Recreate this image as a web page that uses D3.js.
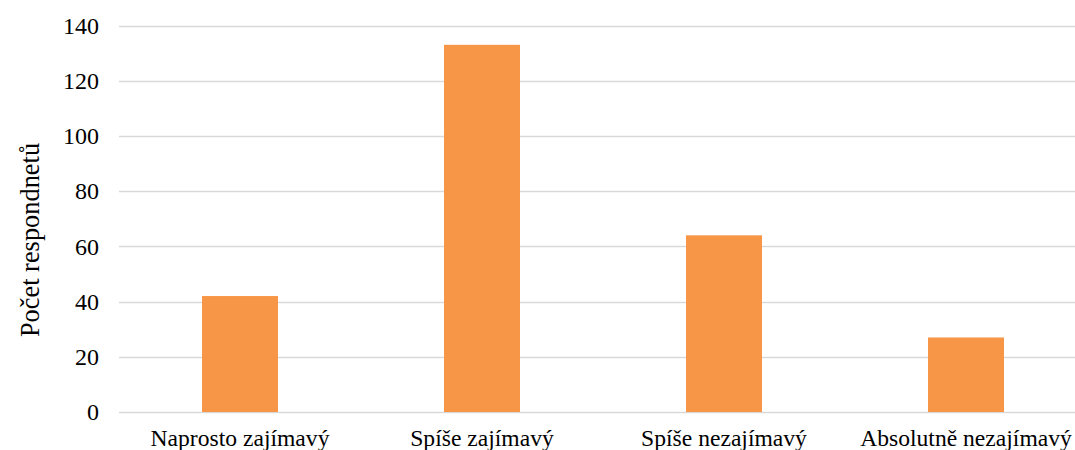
<!DOCTYPE html>
<html>
<head>
<meta charset="utf-8">
<script src="https://cdn.jsdelivr.net/npm/d3@7"></script>
<style>
  body { margin: 0; background: #fff; }
  svg { display: block; }
  svg text { font-family: "Times New Roman", "Liberation Serif", serif; fill: #000; }
</style>
</head>
<body>
<div id="chart"></div>
<script>
const width = 1075,
  height = 450;

// data
const categories = ["Naprosto zajímavý", "Spíše zajímavý", "Spíše nezajímavý", "Absolutně nezajímavý"];
const counts = [42, 133, 64, 27];
const yTicks = [0, 20, 40, 60, 80, 100, 120, 140];
const yTitle = "Počet respondnetů";

const plotLeft = 119, plotRight = 1087, plotTop = 25.5, plotBottom = 412;

var x = d3.scaleBand()
    .domain(categories)
    .range([plotLeft, plotRight])
    .paddingInner(0.686)
    .paddingOuter(0.343);

var y = d3.scaleLinear()
    .domain([0, 140])
    .range([plotBottom, plotTop]);

var svg = d3.select("#chart").append("svg")
    .attr("width", width)
    .attr("height", height);

// gridlines
svg.append("g")
  .selectAll("line")
  .data(yTicks)
  .enter().append("line")
    .attr("x1", plotLeft)
    .attr("x2", width)
    .attr("y1", d => Math.round(y(d)) + 0.5)
    .attr("y2", d => Math.round(y(d)) + 0.5)
    .style("stroke", "#d9d9d9")
    .style("stroke-width", 1.3);

// y axis labels
var yAxis = svg.append("g")
    .attr("transform", "translate(" + (plotLeft - 11) + ",0)")
    .call(d3.axisLeft(y).tickValues(yTicks).tickSize(0).tickPadding(9));
yAxis.attr("font-family", null).attr("font-size", 24);
yAxis.select(".domain").remove();

// bars
svg.append("g")
  .selectAll("rect")
  .data(counts)
  .enter().append("rect")
    .attr("x", (d, i) => x(categories[i]))
    .attr("width", x.bandwidth())
    .attr("y", d => y(d))
    .attr("height", d => y(0) - y(d))
    .style("fill", "#f79646");

// x axis labels
var xAxis = svg.append("g")
    .attr("transform", "translate(0," + plotBottom + ")")
    .call(d3.axisBottom(x).tickSize(0));
xAxis.attr("font-family", null).attr("font-size", 23.6);
xAxis.select(".domain").remove();
xAxis.selectAll("text").attr("dy", null).attr("y", 34);

// y axis title
svg.append("text")
    .attr("transform", "translate(39," + 240 + ") rotate(-90)")
    .attr("text-anchor", "middle")
    .attr("font-size", 26.4)
    .text(yTitle);
</script>
</body>
</html>
